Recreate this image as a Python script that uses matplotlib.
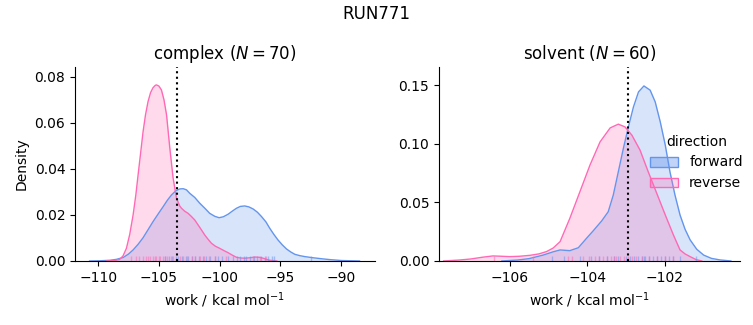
import matplotlib.pyplot as plt
import matplotlib.transforms as mtransforms
from matplotlib.patches import Patch

# complex phase: KDE curves
cx_fwd_x = [-110.7, -109.8, -109.04, -108.5, -107.94, -107.5, -107.12, -106.7, -106.3,
            -105.9, -105.48, -105.05, -104.65, -104.3, -103.96, -103.6, -103.28, -103.0,
            -102.73, -102.46, -102.05, -101.64, -101.2, -100.82, -100.4, -100.05, -99.7,
            -99.31, -98.95, -98.62, -98.3, -97.94, -97.6, -97.25, -96.9, -96.56, -96.2,
            -95.88, -95.55, -95.2, -94.85, -94.5, -94.15, -93.82, -93.4, -93.0, -92.32,
            -91.5, -90.95, -90.0, -88.5]
cx_fwd_y = [0.0, 0.0001, 0.0003, 0.0007, 0.0015, 0.0030, 0.0048, 0.0073, 0.0101,
            0.0135, 0.0171, 0.0205, 0.0236, 0.0264, 0.0287, 0.0305, 0.0313, 0.0314,
            0.0309, 0.0294, 0.0276, 0.0251, 0.0228, 0.0207, 0.0194, 0.0188, 0.0192,
            0.0203, 0.0217, 0.0229, 0.0237, 0.0239, 0.0235, 0.0226, 0.0212, 0.0193, 0.0170,
            0.0142, 0.0116, 0.0091, 0.0070, 0.0052, 0.0039, 0.0029, 0.0023, 0.0019, 0.0014,
            0.0009, 0.0006, 0.0002, 0.0]
cx_rev_x = [-109.3, -108.6, -108.22, -107.95, -107.67, -107.4, -107.12, -106.9, -106.71,
            -106.5, -106.3, -106.1, -105.89, -105.68, -105.48, -105.3, -105.2, -105.0,
            -104.79, -104.58, -104.37, -104.1, -103.83, -103.55, -103.3, -103.14, -102.87,
            -102.6, -102.32, -102.05, -101.78, -101.5, -101.23, -100.95, -100.68, -100.35,
            -100.0, -99.65, -99.31, -98.95, -98.62, -98.3, -97.94, -97.5, -97.11, -96.75,
            -96.43, -96.15, -95.88, -95.3]
cx_rev_y = [0.0, 0.0002, 0.0007, 0.0022, 0.0055, 0.0115, 0.0200, 0.0285, 0.0374,
            0.0470, 0.0562, 0.0635, 0.0693, 0.0732, 0.0753, 0.0763, 0.0765, 0.0760,
            0.0743, 0.0700, 0.0635, 0.0490, 0.0360, 0.0273, 0.0240, 0.0229, 0.0216,
            0.0207, 0.0193, 0.0178, 0.0157, 0.0135, 0.0113, 0.0094, 0.0077, 0.0064,
            0.0055, 0.0045, 0.0036, 0.0025, 0.0016, 0.0013, 0.0012, 0.0014, 0.0017, 0.0016,
            0.0012, 0.0007, 0.0003, 0.0]

# solvent phase
sv_fwd_x = [-106.2, -105.8, -105.5, -105.14, -104.88, -104.7, -104.45, -104.23, -104.02,
            -103.85, -103.63, -103.46, -103.33, -103.2, -103.07, -102.94, -102.81, -102.68,
            -102.54, -102.38, -102.25, -102.12, -101.99, -101.87, -101.74, -101.61, -101.48,
            -101.35, -101.18, -101.0, -100.8, -100.58, -100.3]
sv_fwd_y = [0.0, 0.0008, 0.0020, 0.0050, 0.0078, 0.0094, 0.0088, 0.0113, 0.0193,
            0.0256, 0.0341, 0.0420, 0.0562, 0.0761, 0.0960, 0.1144, 0.1314, 0.1442,
            0.1493, 0.1457, 0.1357, 0.1187, 0.0988, 0.0761, 0.0562, 0.0392, 0.0270,
            0.0180, 0.0100, 0.0050, 0.0022, 0.0009, 0.0]
sv_rev_x = [-107.7, -107.3, -107.0, -106.7, -106.43, -106.2, -106.0, -105.75, -105.48,
            -105.25, -105.05, -104.88, -104.7, -104.45, -104.19, -103.93, -103.67, -103.41,
            -103.2, -103.03, -102.85, -102.64, -102.43, -102.21, -101.99, -101.78, -101.61,
            -101.48, -101.35, -101.2, -101.05]
sv_rev_y = [0.0, 0.0008, 0.0017, 0.0032, 0.0043, 0.0040, 0.0037, 0.0040, 0.0048,
            0.0060, 0.0080, 0.0110, 0.0165, 0.0363, 0.0590, 0.0818, 0.1016, 0.1135,
            0.1167, 0.1144, 0.1073, 0.0945, 0.0761, 0.0577, 0.0392, 0.0221, 0.0094,
            0.0060, 0.0037, 0.0012, 0.0]

# rug positions (approximate, read off the ticks)
cx_fwd_rug = [-104.5, -104.2, -103.9, -103.6, -103.4, -103.1, -102.8, -102.6, -102.3, -102.0,
              -101.7, -101.4, -101.1, -100.8, -100.4, -100.1, -99.8, -99.3, -98.9, -98.6,
              -98.3, -98.0, -97.8, -97.5, -97.2, -96.9, -96.6, -96.3, -96.0, -95.7, -95.5,
              -92.5]
cx_rev_rug = [-107.3, -106.9, -106.6, -106.3, -106.1, -105.9, -105.7, -105.5, -105.3, -105.2,
              -105.0, -104.9, -104.7, -104.5, -104.3, -104.0, -103.8, -103.3, -103.0, -102.7,
              -102.3, -102.0, -101.6, -101.3, -100.9, -100.4, -99.5, -97.3, -96.7, -96.2]
sv_fwd_rug = [-104.9, -104.6, -104.2, -103.9, -103.7, -103.5, -103.3, -103.2, -103.0, -102.9,
              -102.8, -102.7, -102.6, -102.55, -102.5, -102.4, -102.3, -102.2, -102.1,
              -102.0, -101.9, -101.8, -101.6, -101.2]
sv_rev_rug = [-106.4, -105.4, -104.5, -104.4, -104.1, -103.95, -103.8, -103.7, -103.6,
              -103.5, -103.4, -103.3, -103.25, -103.15, -103.05, -102.95, -102.85, -102.75,
              -102.6, -102.4, -102.2, -102.0, -101.8]

cx_mean = -103.55
sv_mean = -102.94

phases = ["complex", "solvent"]
n_samples = [70, 60]
fwd_color = "#6495ED"
rev_color = "#FF69B4"

fig = plt.figure(figsize=(7.53, 3.25), dpi=100)
ax1 = fig.add_axes([0.0996, 0.197, 0.398, 0.597])
ax2 = fig.add_axes([0.583, 0.197, 0.400, 0.597])

panels = [
    (ax1, cx_fwd_x, cx_fwd_y, cx_rev_x, cx_rev_y, cx_fwd_rug, cx_rev_rug, cx_mean),
    (ax2, sv_fwd_x, sv_fwd_y, sv_rev_x, sv_rev_y, sv_fwd_rug, sv_rev_rug, sv_mean),
]

for i, (ax, fx, fy, rx, ry, frug, rrug, mean) in enumerate(panels):
    ax.fill_between(fx, fy, color=fwd_color, alpha=0.25, lw=0)
    ax.plot(fx, fy, color=fwd_color, lw=1)
    ax.fill_between(rx, ry, color=rev_color, alpha=0.25, lw=0)
    ax.plot(rx, ry, color=rev_color, lw=1)
    trans = mtransforms.blended_transform_factory(ax.transData, ax.transAxes)
    ax.vlines(frug, 0, 0.025, transform=trans, color=fwd_color, alpha=0.5, lw=1)
    ax.vlines(rrug, 0, 0.025, transform=trans, color=rev_color, alpha=0.5, lw=1)
    ax.axvline(mean, color="k", ls=":", lw=1.5)
    ax.spines["top"].set_visible(False)
    ax.spines["right"].set_visible(False)
    ax.set_xlabel(r"work / kcal mol$^{-1}$")
    ax.set_title(f"{phases[i]} ($N = {n_samples[i]}$)")

ax1.set_xlim(-111.9, -87.25)
ax1.set_ylim(0, 0.0843)
ax1.set_yticks([0, 0.02, 0.04, 0.06, 0.08])
ax1.set_ylabel("Density")
ax2.set_xlim(-107.82, -100.06)
ax2.set_ylim(0, 0.1655)
ax2.set_xticks([-106, -104, -102])
ax2.set_yticks([0, 0.05, 0.10, 0.15])

handles = [
    Patch(facecolor=fwd_color + "66", edgecolor=fwd_color, label="forward"),
    Patch(facecolor=rev_color + "44", edgecolor=rev_color, label="reverse"),
]
fig.legend(handles=handles, title="direction", loc="center right",
           bbox_to_anchor=(1.003, 0.5), frameon=False)
fig.suptitle("RUN771", y=0.985)

fig.savefig("out.png", dpi=100)
